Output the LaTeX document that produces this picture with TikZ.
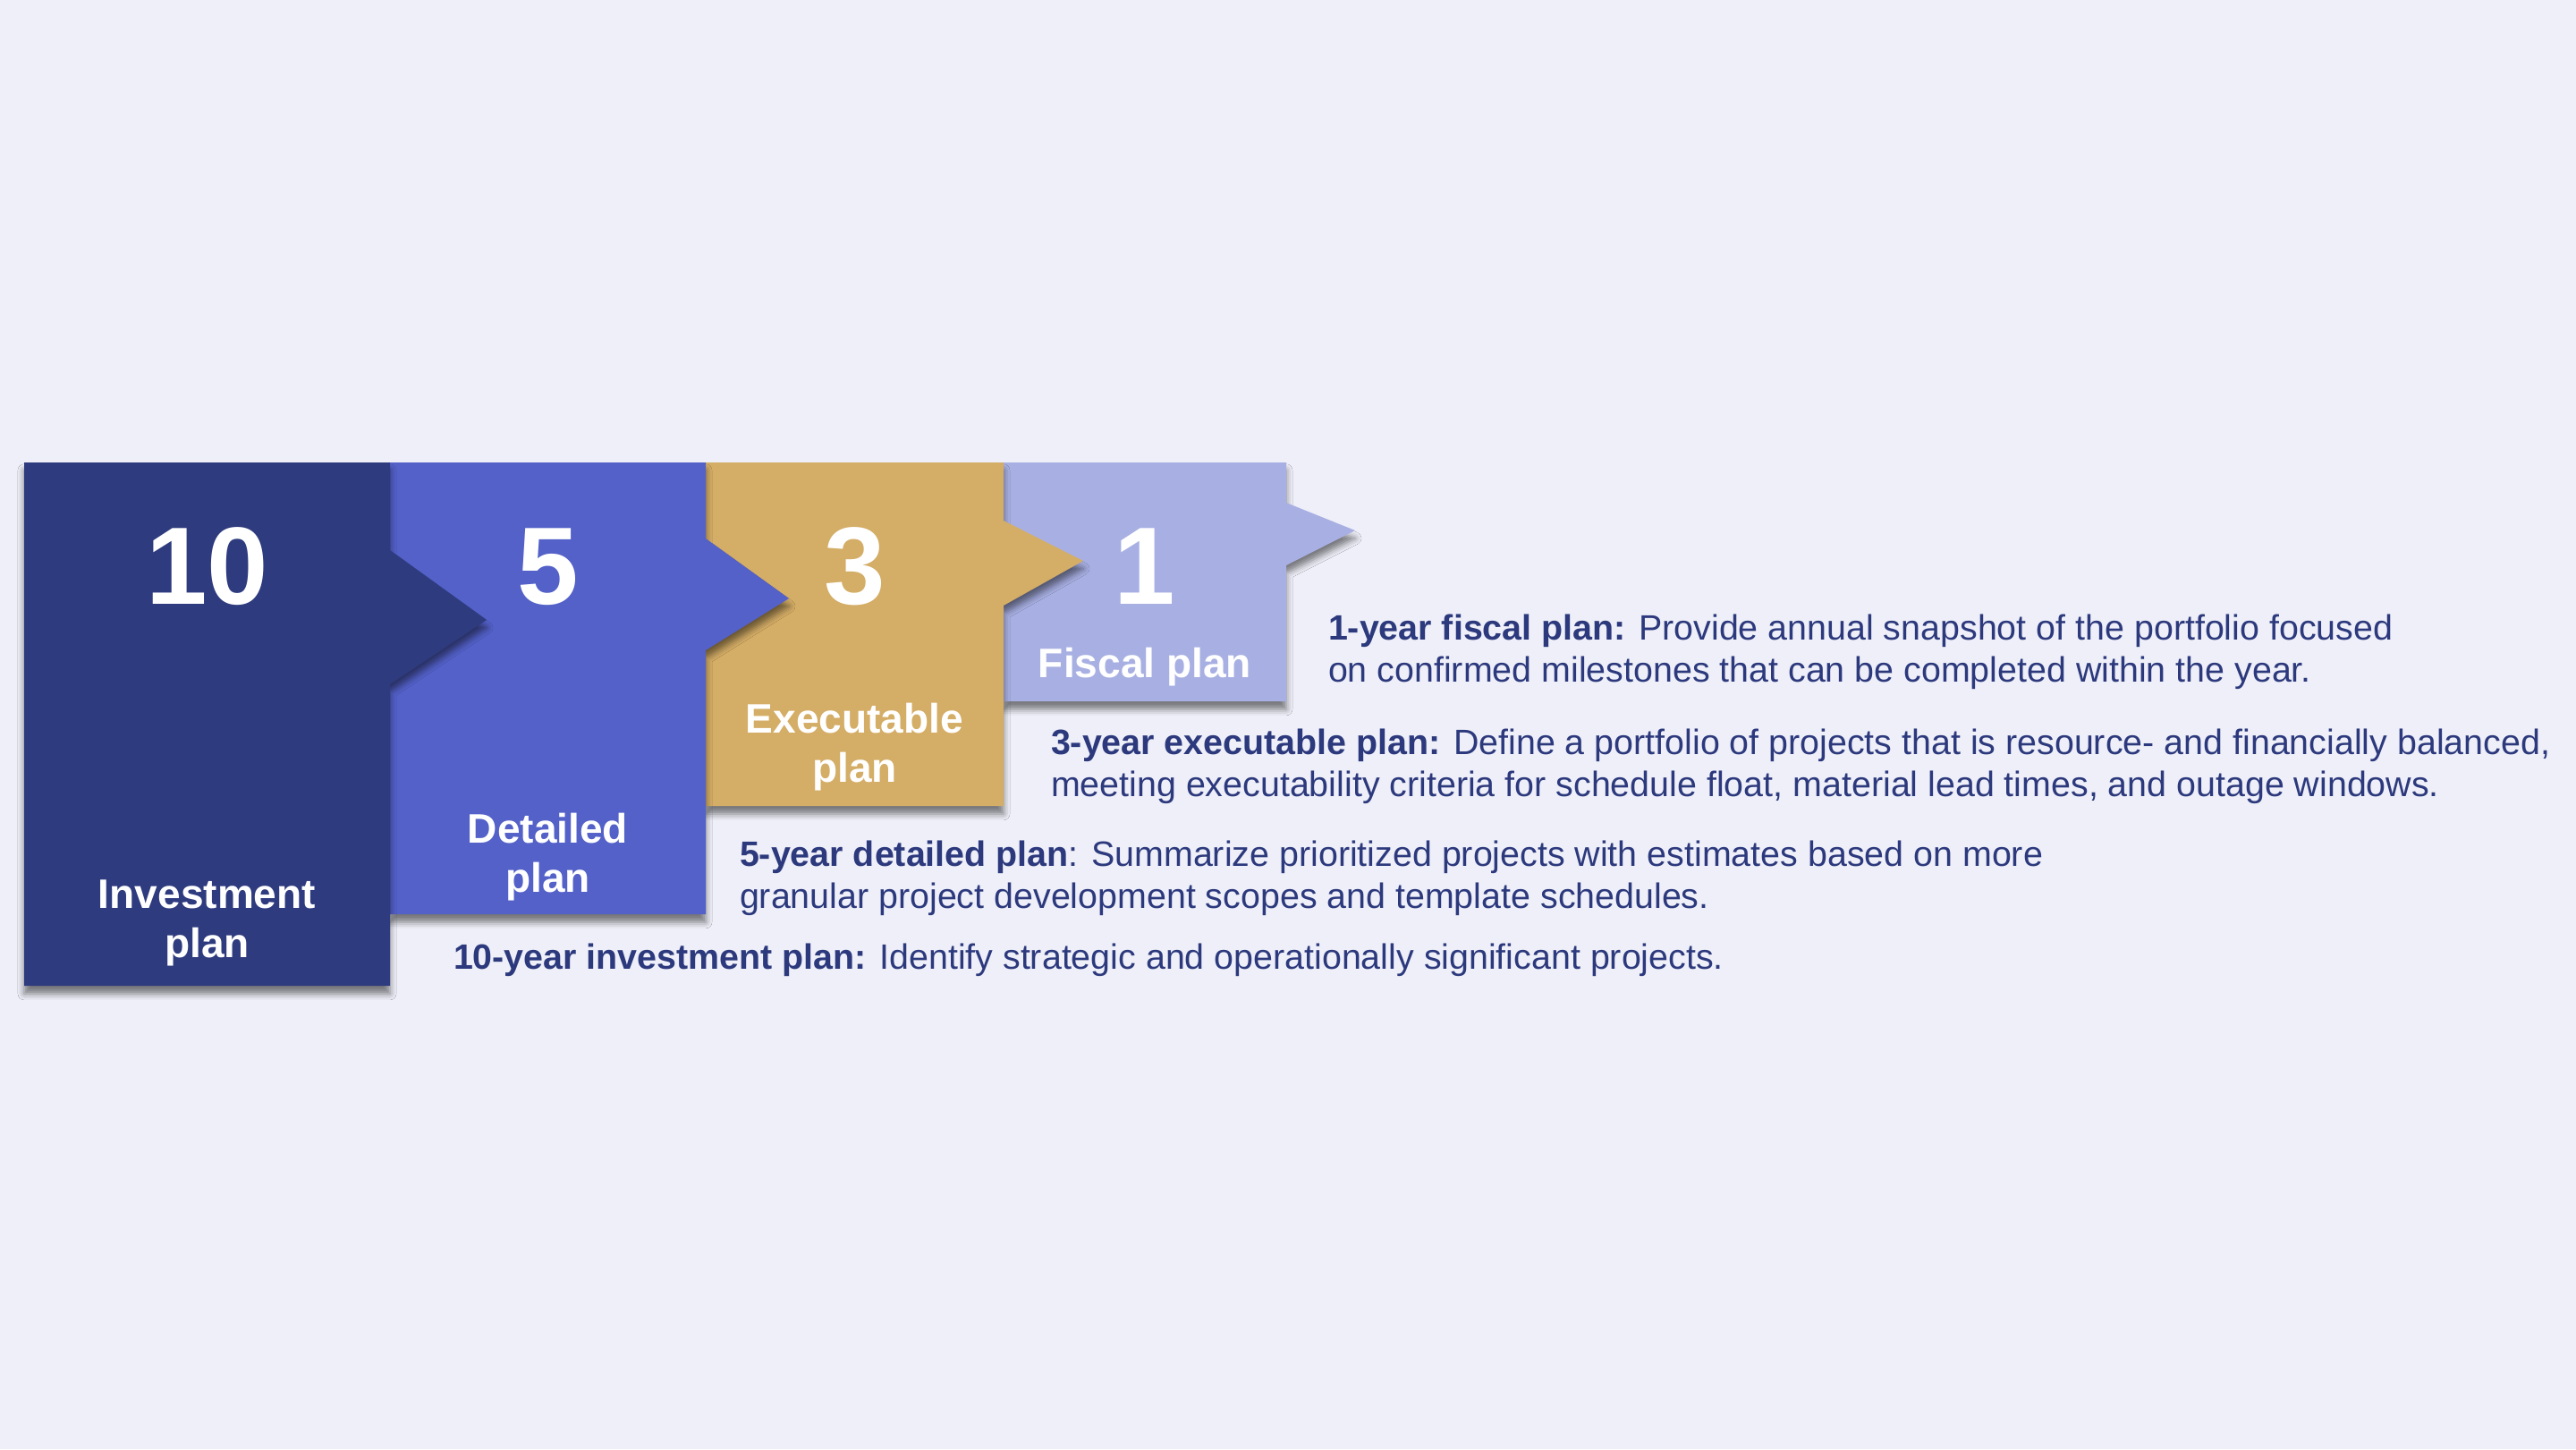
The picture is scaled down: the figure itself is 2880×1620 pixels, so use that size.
\documentclass[tikz,border=0pt]{standalone}
\usepackage{fontspec}
\setmainfont{Liberation Sans}
\usepackage{xcolor}
\usepackage{tikz}
\usetikzlibrary{shadows.blur}
\definecolor{bgcol}{RGB}{238,239,248}
\definecolor{tenplan}{RGB}{46,59,126}
\definecolor{fiveplan}{RGB}{83,97,200}
\definecolor{threeplan}{RGB}{212,173,102}
\definecolor{oneplan}{RGB}{168,176,227}
\definecolor{navytext}{RGB}{44,57,125}
\tikzset{every node/.style={inner sep=0pt, outer sep=0pt}}
\tikzstyle{block}=[blur shadow={shadow xshift=0pt, shadow yshift=-2.5pt, shadow blur radius=2pt, shadow opacity=50}]
\tikzstyle{bignum}=[text=white, anchor=base, font=\fontsize{35}{40}\selectfont\bfseries]
\tikzstyle{blocklabel}=[text=white, anchor=base, align=center, font=\fontsize{13.1}{15.4}\selectfont\bfseries]
\tikzstyle{desc}=[text=navytext, anchor=base west, align=left, font=\fontsize{11.2}{13.37}\selectfont]

\begin{document}
\begin{tikzpicture}[x=0.01cm, y=-0.01cm]
	\fill [bgcol] (0,0) rectangle (2880,1620);
	\useasboundingbox (0,0) rectangle (2880,1620);
	
	\fill [block, fill=oneplan] (1122,517) -- (1438,517) -- (1438,562) -- (1515,593) -- (1438,632) -- (1438,784) -- (1122,784) -- cycle;
	\fill [block, fill=threeplan] (789,517) -- (1122,517) -- (1122,582) -- (1211,627) -- (1122,677) -- (1122,901) -- (789,901) -- cycle;
	\fill [block, fill=fiveplan] (436,517) -- (789,517) -- (789,602) -- (882,669) -- (789,727) -- (789,1022) -- (436,1022) -- cycle;
	\fill [block, fill=tenplan] (27,517) -- (436,517) -- (436,615) -- (544,693) -- (436,765) -- (436,1102) -- (27,1102) -- cycle;
	
	\node at (231.5,675) [bignum] (num10) {10};
	\node at (612.5,675) [bignum] (num5) {5};
	\node at (955.5,675) [bignum] (num3) {3};
	\node at (1280,675) [bignum] (num1) {1};
	
	\node at (231.5,1070) [blocklabel] (lab10) {Investment\\plan};
	\node at (612.5,997) [blocklabel] (lab5) {Detailed\\plan};
	\node at (955.5,874) [blocklabel] (lab3) {Executable\\plan};
	\node at (1280,757) [blocklabel] (lab1) {Fiscal plan};
	
	\node at (1485,762) [desc] (txt1) {\textbf{1-year fiscal plan:} Provide annual snapshot of the portfolio focused\\on confirmed milestones that can be completed within the year.};
	\node at (1175,890) [desc] (txt3) {\textbf{3-year executable plan:} Define a portfolio of projects that is resource- and financially balanced,\\meeting executability criteria for schedule float, material lead times, and outage windows.};
	\node at (827,1015) [desc] (txt5) {\textbf{5-year detailed plan}: Summarize prioritized projects with estimates based on more\\granular project development scopes and template schedules.};
	\node at (507,1083) [desc] (txt10) {\textbf{10-year investment plan:} Identify strategic and operationally significant projects.};
\end{tikzpicture}
\end{document}
